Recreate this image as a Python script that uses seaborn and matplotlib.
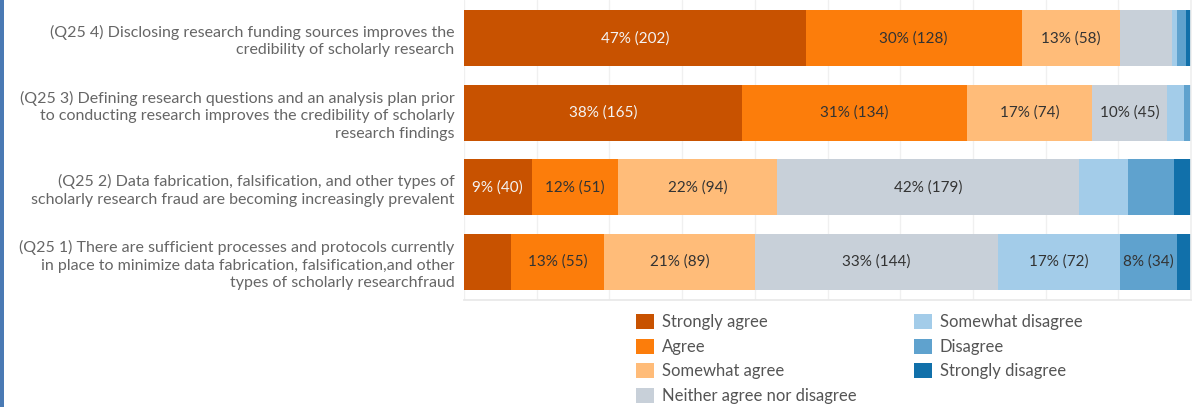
import matplotlib
matplotlib.use("Agg")
import matplotlib.pyplot as plt
import matplotlib.patches as mpatches
import numpy as np
import pandas as pd
import seaborn as sns

# Survey statements (top to bottom)
questions = [
    "(Q25 4) Disclosing research funding sources improves the\ncredibility of scholarly research",
    "(Q25 3) Defining research questions and an analysis plan prior\nto conducting research improves the credibility of scholarly\nresearch findings",
    "(Q25 2) Data fabrication, falsification, and other types of\nscholarly research fraud are becoming increasingly prevalent",
    "(Q25 1) There are sufficient processes and protocols currently\nin place to minimize data fabrication, falsification,and other\ntypes of scholarly researchfraud",
]

responses = [
    "Strongly agree", "Agree", "Somewhat agree", "Neither agree nor disagree",
    "Somewhat disagree", "Disagree", "Strongly disagree",
]

# Response counts per statement, one list per response level
strongly_agree = [202, 165, 40, 28]
agree = [128, 134, 51, 55]
somewhat_agree = [58, 74, 94, 89]
neither = [31, 45, 179, 144]
somewhat_disagree = [3, 10, 29, 72]
disagree = [5, 4, 27, 34]
strongly_disagree = [3, 0, 10, 8]

colors = ["#c85200", "#fc7d0b", "#ffbc79", "#c8d0d9", "#a3cce9", "#5fa2ce", "#1170aa"]

counts = np.array([strongly_agree, agree, somewhat_agree, neither,
                   somewhat_disagree, disagree, strongly_disagree], dtype=float).T
totals = counts.sum(axis=1, keepdims=True)
shares = counts / totals
cum = np.cumsum(shares, axis=1)

sns.set_theme(style="white")
plt.rcParams["font.family"] = ["Lato", "DejaVu Sans"]

fig = plt.figure(figsize=(11.94, 4.07), dpi=100)
ax = fig.add_axes([464 / 1194, 1 - 300 / 407, 727 / 1194, 300 / 407])

# Stacked bars: draw cumulative shares from the last level back to the first
for j in range(len(responses) - 1, -1, -1):
    df = pd.DataFrame({"question": questions, "cum": cum[:, j]})
    sns.barplot(data=df, x="cum", y="question", orient="h", color=colors[j],
                saturation=1, width=0.75, linewidth=0, ax=ax, zorder=2)

# Segment labels for segments wide enough to hold them
for i in range(len(questions)):
    for j in range(len(responses)):
        pct = int(round(shares[i, j] * 100))
        if pct < 8:
            continue
        left = cum[i, j] - shares[i, j]
        xc = left + shares[i, j] / 2
        ax.text(xc, i, f"{pct}% ({int(counts[i, j])})", ha="center", va="center",
                fontsize=11, color="#f4f4f4" if j == 0 else "#333333", zorder=3)

ax.set_xlim(0, 1.0)
ax.set_ylim(3.51, -0.51)
ax.set_xticks(np.arange(0, 1.01, 0.1))
ax.set_xticklabels([])
ax.tick_params(axis="x", length=0)
ax.tick_params(axis="y", length=0, pad=7, labelsize=11.5, labelcolor="#666666")
ax.set_xlabel("")
ax.set_ylabel("")
ax.grid(axis="x", color="#f0f0f0", linewidth=1, zorder=0)
ax.set_axisbelow(True)
for side in ["top", "left"]:
    ax.spines[side].set_visible(False)
ax.spines["bottom"].set_color("#e8e8e8")
ax.spines["right"].set_color("#f0f0f0")
for lab in ax.get_yticklabels():
    lab.set_horizontalalignment("right")
    lab.set_multialignment("right")
    lab.set_linespacing(1.3)

# Legend in two columns below the bars
handles = [mpatches.Patch(facecolor=c, edgecolor="none", label=r) for c, r in zip(colors, responses)]
fig.legend(handles=handles, ncol=2, loc="upper left", bbox_to_anchor=(636 / 1194, 1 - 314 / 407),
           frameon=False, fontsize=12, handlelength=1.08, handleheight=1.02,
           handletextpad=0.45, columnspacing=3.5, labelspacing=0.5, labelcolor="#555555",
           borderaxespad=0, borderpad=0)

# Blue accent bar on the left edge
fig.patches.append(mpatches.Rectangle((0, 0), 4 / 1194, 1, transform=fig.transFigure,
                                      facecolor="#4a7ab4", edgecolor="none"))

fig.savefig("out.png", dpi=100)
